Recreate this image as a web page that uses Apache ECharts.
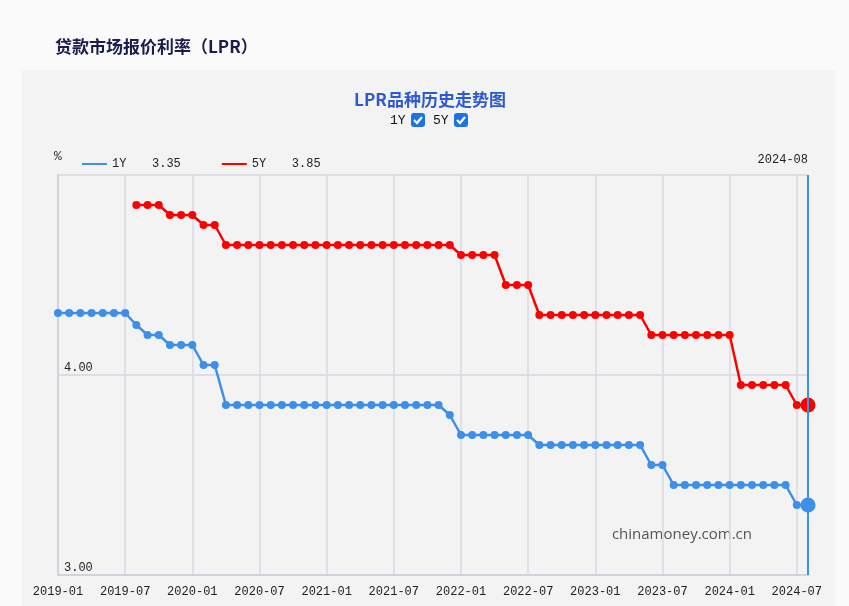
<!DOCTYPE html>
<html><head><meta charset="utf-8">
<script src="https://cdn.jsdelivr.net/npm/echarts@6/dist/echarts.min.js"></script>
<style>html,body{margin:0;padding:0;background:#fafafa;}#c{width:849px;height:606px;}</style>
</head><body><div id="c"></div>
<script>
var months = ['2019-01','2019-02','2019-03','2019-04','2019-05','2019-06','2019-07','2019-08','2019-09','2019-10','2019-11','2019-12',
'2020-01','2020-02','2020-03','2020-04','2020-05','2020-06','2020-07','2020-08','2020-09','2020-10','2020-11','2020-12',
'2021-01','2021-02','2021-03','2021-04','2021-05','2021-06','2021-07','2021-08','2021-09','2021-10','2021-11','2021-12',
'2022-01','2022-02','2022-03','2022-04','2022-05','2022-06','2022-07','2022-08','2022-09','2022-10','2022-11','2022-12',
'2023-01','2023-02','2023-03','2023-04','2023-05','2023-06','2023-07','2023-08','2023-09','2023-10','2023-11','2023-12',
'2024-01','2024-02','2024-03','2024-04','2024-05','2024-06','2024-07','2024-08'];
var lpr1Y = [4.31,4.31,4.31,4.31,4.31,4.31,4.31,4.25,4.20,4.20,4.15,4.15,
4.15,4.05,4.05,3.85,3.85,3.85,3.85,3.85,3.85,3.85,3.85,3.85,
3.85,3.85,3.85,3.85,3.85,3.85,3.85,3.85,3.85,3.85,3.85,3.80,
3.70,3.70,3.70,3.70,3.70,3.70,3.70,3.65,3.65,3.65,3.65,3.65,
3.65,3.65,3.65,3.65,3.65,3.55,3.55,3.45,3.45,3.45,3.45,3.45,
3.45,3.45,3.45,3.45,3.45,3.45,3.35,3.35];
var lpr5Y = [null,null,null,null,null,null,null,4.85,4.85,4.85,4.80,4.80,
4.80,4.75,4.75,4.65,4.65,4.65,4.65,4.65,4.65,4.65,4.65,4.65,
4.65,4.65,4.65,4.65,4.65,4.65,4.65,4.65,4.65,4.65,4.65,4.65,
4.60,4.60,4.60,4.60,4.45,4.45,4.45,4.30,4.30,4.30,4.30,4.30,
4.30,4.30,4.30,4.30,4.30,4.20,4.20,4.20,4.20,4.20,4.20,4.20,
4.20,3.95,3.95,3.95,3.95,3.95,3.85,3.85];
var seriesNames = ['1Y','5Y'];
var yTicks = [3, 4, 5];

var last = months.length - 1;
var C1 = '#3d8fe9', C5 = '#ff0000';
var mono = '"Liberation Mono","DejaVu Sans Mono",monospace';
var cjk = '"Noto Sans CJK SC","Noto Sans",sans-serif';
var lastVal = {'1Y': lpr1Y[last].toFixed(2), '5Y': lpr5Y[last].toFixed(2)};
function symSize(v, p){ return p.dataIndex === last ? 15 : 8; }

function checkbox(x, y){
  return {type:'group', x:x, y:y, children:[
    {type:'rect', shape:{x:0,y:0,width:14,height:14,r:3}, style:{fill:'#1a73e8'}},
    {type:'polyline', shape:{points:[[3,7],[6,10],[11,4]]}, style:{stroke:'#fff', lineWidth:2.2, fill:null}}
  ]};
}

var chart = echarts.init(document.getElementById('c'));
chart.setOption({
  backgroundColor: '#fafafa',
  animation: false,
  title: [
    {text:'贷款市场报价利率（LPR）', left:50, top:33, textStyle:{fontFamily:cjk, fontSize:17, fontWeight:'bold', color:'#1c1c50'}},
    {text:'LPR品种历史走势图', left:425, textAlign:'center', top:86, textStyle:{fontFamily:cjk, fontSize:17, fontWeight:'bold', color:'#2d5ad3'}}
  ],
  graphic: [
    {type:'rect', z:-10, shape:{x:22,y:70,width:813,height:536}, style:{fill:'#f3f3f3'}},
    {type:'text', left:390, top:114, style:{text:seriesNames[0], font:'13px '+mono, fill:'#111'}},
    checkbox(411, 113),
    {type:'text', left:433, top:114, style:{text:seriesNames[1], font:'13px '+mono, fill:'#111'}},
    checkbox(454, 113),
    {type:'text', right:41, top:154, style:{text:months[last], font:'12px '+mono, fill:'#222'}},
    {type:'text', right:97, top:527, style:{text:'chinamoney.com.cn', font:'15px "Open Sans",sans-serif', fill:'#555'}}
  ],
  legend: {
    left: 77, top: 153, itemWidth: 25, itemHeight: 2, itemGap: 41, icon: 'rect',
    selectedMode: false,
    data: seriesNames,
    formatter: function(n){ return '{n|' + n + '}{v|' + lastVal[n] + '}'; },
    textStyle: {fontFamily: mono, fontSize: 12, color: '#222',
      rich: {n:{width:40, fontFamily:mono, fontSize:12, color:'#222'}, v:{fontFamily:mono, fontSize:12, color:'#222'}}}
  },
  grid: {left:58, right:41, top:175, bottom:31, containLabel:false},
  xAxis: {
    type:'category', data: months, boundaryGap:false,
    axisLine:{lineStyle:{color:'#cfd3dc', width:2}},
    axisTick:{show:false},
    axisLabel:{interval:5, color:'#222', fontFamily:mono, fontSize:12, margin:11},
    splitLine:{show:true, interval:5, lineStyle:{color:'#d7dbe3', width:1.5}}
  },
  yAxis: {
    type:'value', min:yTicks[0], max:yTicks[yTicks.length-1], interval:1,
    name:'%', nameGap:12, nameTextStyle:{fontFamily:mono, fontSize:13, color:'#333', align:'center'},
    axisLine:{show:true, lineStyle:{color:'#cfd3dc', width:2}},
    axisTick:{show:false},
    axisLabel:{inside:true, margin:6, showMaxLabel:false, verticalAlign:'bottom', padding:[0,0,1,0],
      color:'#222', fontFamily:mono, fontSize:12, formatter:function(v){return v.toFixed(2);}},
    splitLine:{lineStyle:{color:'#d3d7df', width:1.5}}
  },
  series: [
    {name:seriesNames[0], type:'line', data:lpr1Y, color:C1, symbol:'circle', symbolSize:symSize, showAllSymbol:true,
      lineStyle:{width:2.5, color:C1}, itemStyle:{color:C1},
      markLine:{silent:true, symbol:'none', label:{show:false}, lineStyle:{color:C1, width:2, type:'solid'},
        data:[{xAxis: months[last]}]}},
    {name:seriesNames[1], type:'line', data:lpr5Y, color:C5, symbol:'circle', symbolSize:symSize, showAllSymbol:true,
      lineStyle:{width:2.5, color:C5}, itemStyle:{color:C5}}
  ]
});
</script></body></html>
